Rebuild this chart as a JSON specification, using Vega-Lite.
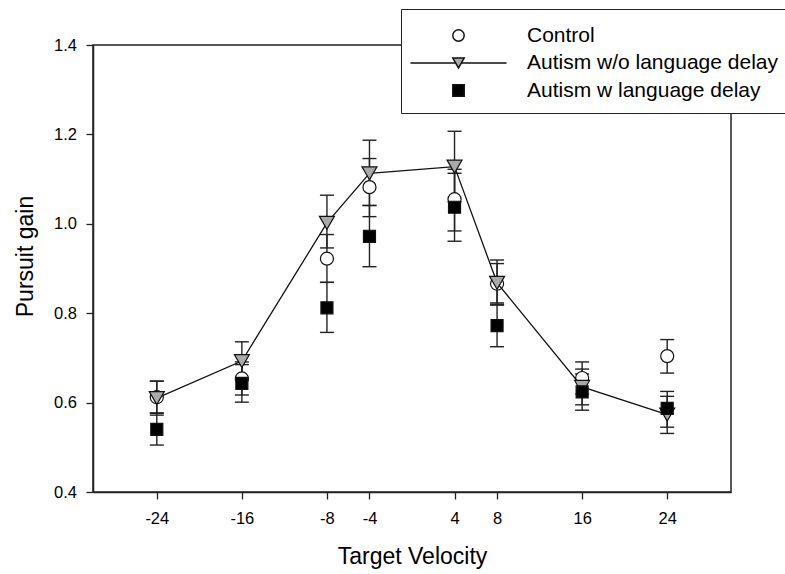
{
  "$schema": "https://vega.github.io/schema/vega-lite/v6.json",
  "autosize": {"type": "none"},
  "padding": {"left": 93, "top": 45, "right": 54, "bottom": 82},
  "width": 638,
  "height": 447,
  "background": "white",
  "config": {
    "view": {"stroke": "#222", "strokeWidth": 1.5},
    "font": "Liberation Sans",
    "axis": {
      "grid": false,
      "domainColor": "#222",
      "domainWidth": 1.5,
      "tickColor": "#222",
      "tickWidth": 1.3,
      "tickSize": 7,
      "labelFlush": false,
      "labelOverlap": false
    }
  },
  "data": {
    "values": [
      {"group": "Control", "v": -24, "mean": 0.612, "lo": 0.576, "hi": 0.648},
      {"group": "Control", "v": -16, "mean": 0.654, "lo": 0.617, "hi": 0.691},
      {"group": "Control", "v": -8, "mean": 0.922, "lo": 0.869, "hi": 0.976},
      {"group": "Control", "v": -4, "mean": 1.082, "lo": 1.016, "hi": 1.146},
      {"group": "Control", "v": 4, "mean": 1.055, "lo": 0.984, "hi": 1.122},
      {"group": "Control", "v": 8, "mean": 0.866, "lo": 0.818, "hi": 0.919},
      {"group": "Control", "v": 16, "mean": 0.655, "lo": 0.619, "hi": 0.691},
      {"group": "Control", "v": 24, "mean": 0.704, "lo": 0.666, "hi": 0.741},
      {"group": "Autism w/o language delay", "v": -24, "mean": 0.610, "lo": 0.572, "hi": 0.648},
      {"group": "Autism w/o language delay", "v": -16, "mean": 0.693, "lo": 0.650, "hi": 0.736},
      {"group": "Autism w/o language delay", "v": -8, "mean": 1.002, "lo": 0.946, "hi": 1.064},
      {"group": "Autism w/o language delay", "v": -4, "mean": 1.113, "lo": 1.041, "hi": 1.187},
      {"group": "Autism w/o language delay", "v": 4, "mean": 1.128, "lo": 1.049, "hi": 1.207},
      {"group": "Autism w/o language delay", "v": 8, "mean": 0.868, "lo": 0.823, "hi": 0.911},
      {"group": "Autism w/o language delay", "v": 16, "mean": 0.635, "lo": 0.595, "hi": 0.675},
      {"group": "Autism w/o language delay", "v": 24, "mean": 0.573, "lo": 0.531, "hi": 0.614},
      {"group": "Autism w language delay", "v": -24, "mean": 0.540, "lo": 0.505, "hi": 0.577},
      {"group": "Autism w language delay", "v": -16, "mean": 0.643, "lo": 0.601, "hi": 0.685},
      {"group": "Autism w language delay", "v": -8, "mean": 0.812, "lo": 0.757, "hi": 0.869},
      {"group": "Autism w language delay", "v": -4, "mean": 0.972, "lo": 0.904, "hi": 1.041},
      {"group": "Autism w language delay", "v": 4, "mean": 1.037, "lo": 0.961, "hi": 1.113},
      {"group": "Autism w language delay", "v": 8, "mean": 0.772, "lo": 0.725, "hi": 0.820},
      {"group": "Autism w language delay", "v": 16, "mean": 0.624, "lo": 0.583, "hi": 0.664},
      {"group": "Autism w language delay", "v": 24, "mean": 0.587, "lo": 0.545, "hi": 0.625}
    ]
  },
  "encoding": {
    "x": {
      "field": "v",
      "type": "quantitative",
      "scale": {"domain": [-30, 30], "nice": false, "zero": false},
      "axis": {
        "title": "Target Velocity",
        "values": [-24, -16, -8, -4, 4, 8, 16, 24],
        "labelExpr": "'' + datum.value",
        "labelPadding": 11,
        "labelFont": "Liberation Sans",
        "labelFontSize": 16.5,
        "labelColor": "black",
        "titleFont": "Liberation Sans",
        "titleFontSize": 23,
        "titleFontWeight": "normal",
        "titleColor": "black",
        "titleBaseline": "alphabetic",
        "titleY": 71.6
      }
    },
    "y": {
      "field": "mean",
      "type": "quantitative",
      "scale": {"domain": [0.4, 1.4], "nice": false, "zero": false},
      "axis": {
        "title": "Pursuit gain",
        "values": [0.4, 0.6, 0.8, 1.0, 1.2, 1.4],
        "format": ".1f",
        "labelPadding": 9.5,
        "labelFont": "Liberation Sans",
        "labelFontSize": 16.5,
        "labelColor": "black",
        "titleFont": "Liberation Sans",
        "titleFontSize": 23,
        "titleFontWeight": "normal",
        "titleColor": "black",
        "titleBaseline": "alphabetic",
        "titleAngle": -90,
        "titleAlign": "center",
        "titleX": -60.3,
        "titleY": 211
      }
    }
  },
  "layer": [
    {
      "mark": {"type": "rule", "color": "#222", "strokeWidth": 1.4},
      "encoding": {
        "y": {"field": "lo", "type": "quantitative"},
        "y2": {"field": "hi"}
      }
    },
    {
      "mark": {"type": "tick", "orient": "horizontal", "color": "#222", "size": 14, "thickness": 1.4, "opacity": 1},
      "encoding": {"y": {"field": "lo", "type": "quantitative"}}
    },
    {
      "mark": {"type": "tick", "orient": "horizontal", "color": "#222", "size": 14, "thickness": 1.4, "opacity": 1},
      "encoding": {"y": {"field": "hi", "type": "quantitative"}}
    },
    {
      "transform": [{"filter": "datum.group === 'Control'"}],
      "mark": {"type": "point", "filled": true, "stroke": "#111", "strokeWidth": 1.2, "opacity": 1, "size": 170},
      "encoding": {
        "shape": {
          "field": "group",
          "type": "nominal",
          "scale": {
            "domain": ["Control", "Autism w/o language delay", "Autism w language delay"],
            "range": ["circle", "M-8.3,-0.02L-0.55,-0.02L-0.55,0.02L-8.3,0.02ZM0.55,-0.02L8.3,-0.02L8.3,0.02L0.55,0.02ZM-1,-0.866L1,-0.866L0,0.866Z", "square"]
          },
          "legend": {
            "title": " ",
            "titleFontSize": 1,
            "titlePadding": 3,
            "orient": "none",
            "legendX": 308,
            "legendY": -36,
            "fillColor": "white",
            "strokeColor": "#222",
            "padding": 12,
            "rowPadding": 5.5,
            "symbolSize": 130,
            "symbolOffset": 35,
            "labelOffset": 58,
            "labelFont": "Liberation Sans",
            "labelFontSize": 21,
            "labelColor": "black",
            "labelLimit": 400,
            "encode": {
              "legend": {"strokeWidth": {"value": 1.5}},
              "symbols": {
                "stroke": {"value": "#111"},
                "strokeWidth": {"value": 1.2},
                "opacity": {"value": 1},
                "size": {"value": 130}
              }
            }
          }
        },
        "fill": {
          "field": "group",
          "type": "nominal",
          "scale": {
            "domain": ["Control", "Autism w/o language delay", "Autism w language delay"],
            "range": ["white", "#a9a9a9", "black"]
          },
          "legend": null
        }
      }
    },
    {
      "transform": [{"filter": "datum.group === 'Autism w/o language delay'"}],
      "mark": {"type": "line", "color": "#111", "strokeWidth": 1.3}
    },
    {
      "transform": [{"filter": "datum.group === 'Autism w/o language delay'"}],
      "mark": {"type": "point", "shape": "triangle-down", "filled": true, "fill": "#a9a9a9", "stroke": "#111", "strokeWidth": 1.2, "opacity": 1, "size": 225}
    },
    {
      "transform": [{"filter": "datum.group === 'Autism w language delay'"}],
      "mark": {"type": "point", "shape": "square", "filled": true, "fill": "black", "stroke": "#111", "strokeWidth": 1.2, "opacity": 1, "size": 144}
    }
  ]
}
